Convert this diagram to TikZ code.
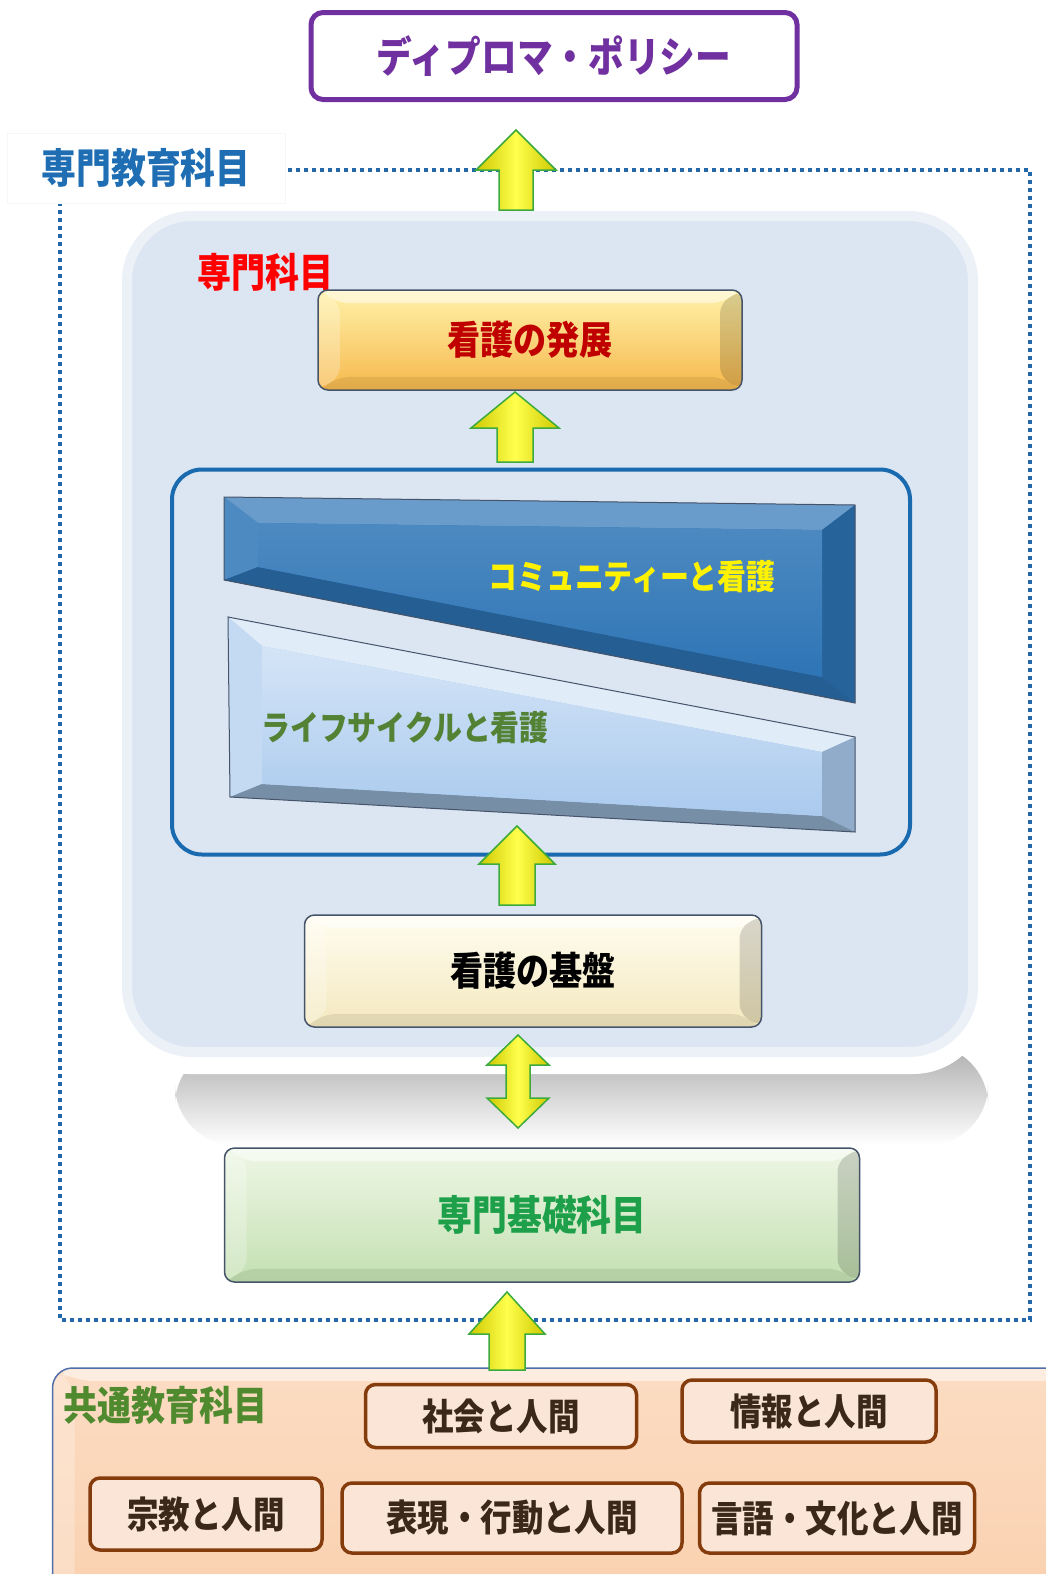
\documentclass[tikz,border=0pt]{standalone}
\usepackage{fontspec}
\newfontfamily\jp[FakeStretch=0.85]{Noto Sans CJK JP}
\usepackage{tikz}
\usetikzlibrary{
  calc,
  positioning,
  shapes}

\definecolor{dpPurple}{RGB}{112,48,160}
\definecolor{eduBlue}{RGB}{31,110,180}
\definecolor{dotBlue}{RGB}{36,104,172}
\definecolor{panelBlue}{RGB}{220,230,242}
\definecolor{edgeGray}{RGB}{70,84,106}
\definecolor{devTop}{RGB}{255,242,170}
\definecolor{devBot}{RGB}{246,184,76}
\definecolor{devRed}{RGB}{192,0,0}
\definecolor{frameBlue}{RGB}{26,106,176}
\definecolor{commBlue}{RGB}{46,117,182}
\definecolor{lifeBlue}{RGB}{170,202,238}
\definecolor{lifeGreen}{RGB}{84,130,53}
\definecolor{baseTop}{RGB}{255,253,240}
\definecolor{baseBot}{RGB}{244,232,190}
\definecolor{fndTop}{RGB}{238,247,230}
\definecolor{fndBot}{RGB}{196,224,178}
\definecolor{fndGreen}{RGB}{30,160,75}
\definecolor{arrGreen}{RGB}{60,170,60}
\definecolor{arrDark}{RGB}{205,200,0}
\definecolor{peach}{RGB}{250,208,174}
\definecolor{peachEdge}{RGB}{80,110,170}
\definecolor{genGreen}{RGB}{79,138,47}
\definecolor{subjBrown}{RGB}{132,60,12}
\definecolor{subjFill}{RGB}{251,229,214}
\definecolor{subjText}{RGB}{60,40,25}

\newcommand{\jf}[1]{\jp\bfseries\fontsize{#1}{#1}\selectfont}

% yellow block arrows, tail -> head
\newcommand{\blockup}[5]{%
  \path[yarrow] let \p1=(#1), \p2=(#2) in
    (\x2-#3pt,\y1) -- (\x2-#3pt,\y2-#5pt) -- (\x2-#4pt,\y2-#5pt) -- (\x2,\y2)
    -- (\x2+#4pt,\y2-#5pt) -- (\x2+#3pt,\y2-#5pt) -- (\x2+#3pt,\y1) -- cycle;}
\newcommand{\blockboth}[5]{%
  \path[yarrow] let \p1=(#1), \p2=(#2) in
    (\x1,\y1) -- (\x1+#4pt,\y1+#5pt) -- (\x1+#3pt,\y1+#5pt) -- (\x1+#3pt,\y2-#5pt)
    -- (\x1+#4pt,\y2-#5pt) -- (\x1,\y2) -- (\x1-#4pt,\y2-#5pt) -- (\x1-#3pt,\y2-#5pt)
    -- (\x1-#3pt,\y1+#5pt) -- (\x1-#4pt,\y1+#5pt) -- cycle;}

\tikzset{
  bevel/.style={path picture={
    \coordinate (bnw) at (path picture bounding box.north west);
    \coordinate (bne) at (path picture bounding box.north east);
    \coordinate (bsw) at (path picture bounding box.south west);
    \coordinate (bse) at (path picture bounding box.south east);
    \coordinate (inw) at ([shift={(#1pt,-0.6*#1pt)}]bnw);
    \coordinate (ine) at ([shift={(-#1pt,-0.6*#1pt)}]bne);
    \coordinate (isw) at ([shift={(#1pt,0.6*#1pt)}]bsw);
    \coordinate (ise) at ([shift={(-#1pt,0.6*#1pt)}]bse);
    \fill[white,opacity=.5] (bnw) -- (bne) -- (ine) -- (inw) -- cycle;
    \fill[white,opacity=.25] (bnw) -- (inw) -- (isw) -- (bsw) -- cycle;
    \fill[black,opacity=.15] (bne) -- (ine) -- (ise) -- (bse) -- cycle;
    \fill[black,opacity=.08] (bsw) -- (isw) -- (ise) -- (bse) -- cycle;}},
  btn/.style={draw=edgeGray, line width=1.5pt, rounded corners=10pt, inner sep=0pt, bevel=22},
  yarrow/.style={draw=arrGreen, line width=1.5pt, left color=arrDark, right color=arrDark, middle color=yellow!70!white},
  subj/.style={draw=subjBrown, line width=3.5pt, fill=subjFill, rounded corners=10pt, inner sep=0pt,
    text=subjText, font=\jf{37}},
  dotframe/.style={draw=dotBlue, line width=4.5pt, dash pattern=on 4pt off 4pt}
}

\begin{document}
\begin{tikzpicture}[x=1pt,y=-1pt]
  \useasboundingbox (0,0) rectangle (1046,1574);
  \clip (0,0) rectangle (1046,1574);
  \fill[white] (0,0) rectangle (1046,1574);

  \node (dp) at (554,56) [draw=dpPurple, line width=5pt, rounded corners=12pt, fill=white,
    minimum width=486, minimum height=87, text=dpPurple, font=\jf{42}] {ディプロマ・ポリシー};

  \draw[dotframe] (60,170) rectangle (1030,1320);
  \node (edu) at (146,168) [fill=white, draw=black!3, minimum width=278, minimum height=70,
    text=eduBlue, font=\jf{41}] {専門教育科目};

  % shadow and panel
  \shade[top color=black!32, bottom color=white, rounded corners=60pt] (175,1045) rectangle (988,1145);
  \node (panel) at (550,640) [fill=white, rounded corners=75pt,
    minimum width=876, minimum height=868] {};
  \node (inner) at (550,634) [fill=panelBlue, draw=panelBlue!55!white, line width=10pt, rounded corners=65pt,
    minimum width=846, minimum height=836] {};
  \node (spec) at (265,272) [text=red, font=\jf{40}] {専門科目};

  \node (dev) at (530,340) [btn, top color=devTop, bottom color=devBot,
    minimum width=424, minimum height=100, text=devRed, font=\jf{39}] {看護の発展};

  \node (frame) at (541,662) [draw=frameBlue, line width=4pt, rounded corners=30pt,
    minimum width=738, minimum height=385] {};

  % community trapezoid
  \fill[commBlue] (224,497) -- (855,505) -- (855,703) -- (224,580) -- cycle;
  \fill[commBlue!72!white] (224,497) -- (855,505) -- (822,530) -- (258,523) -- cycle;
  \fill[commBlue!85!white] (224,497) -- (258,523) -- (258,567) -- (224,580) -- cycle;
  \fill[commBlue!85!black] (855,505) -- (855,703) -- (822,677) -- (822,530) -- cycle;
  \fill[commBlue!80!black] (224,580) -- (258,567) -- (822,677) -- (855,703) -- cycle;
  \shade[top color=commBlue!85!white, bottom color=commBlue] (258,523) -- (822,530) -- (822,677) -- (258,567) -- cycle;
  \draw[edgeGray, line width=1pt] (224,497) -- (855,505) -- (855,703) -- (224,580) -- cycle;
  \node (comm) at (632,577) [text=yellow, font=\jf{34}] {コミュニティーと看護};

  % life cycle trapezoid
  \fill[lifeBlue] (228,617) -- (855,737) -- (855,832) -- (230,797) -- cycle;
  \fill[lifeBlue!35!white] (228,617) -- (855,737) -- (822,752) -- (262,646) -- cycle;
  \fill[lifeBlue!70!white] (228,617) -- (262,646) -- (262,784) -- (230,797) -- cycle;
  \fill[lifeBlue!85!black] (855,737) -- (855,832) -- (822,816) -- (822,752) -- cycle;
  \fill[lifeBlue!70!black] (230,797) -- (262,784) -- (822,816) -- (855,832) -- cycle;
  \shade[top color=lifeBlue!50!white, bottom color=lifeBlue] (262,646) -- (822,752) -- (822,816) -- (262,784) -- cycle;
  \draw[edgeGray, line width=1pt] (228,617) -- (855,737) -- (855,832) -- (230,797) -- cycle;
  \node (life) at (405,728) [text=lifeGreen, font=\jf{34}] {ライフサイクルと看護};

  \node (base) at (533,971) [btn, top color=baseTop, bottom color=baseBot,
    minimum width=457, minimum height=112, text=black, font=\jf{39}] {看護の基盤};

  \node (fnd) at (542,1215) [btn, top color=fndTop, bottom color=fndBot,
    minimum width=635, minimum height=134, text=fndGreen, font=\jf{41}] {専門基礎科目};

  % common education
  \node (gen) at (566,1494) [btn, draw=peachEdge, top color=peach!75!white, bottom color=peach,
    rounded corners=20pt, minimum width=1027, minimum height=252] {};
  \node (genlab) at (165,1405) [text=genGreen, font=\jf{40}] {共通教育科目};
  \node (soc) at (501,1416) [subj, minimum width=271, minimum height=63] {社会と人間};
  \node (info) at (809,1411) [subj, minimum width=254, minimum height=62] {情報と人間};
  \node (rel) at (206,1514) [subj, minimum width=232, minimum height=72] {宗教と人間};
  \node (expr) at (512,1518) [subj, minimum width=340, minimum height=70] {表現・行動と人間};
  \node (lang) at (837,1518) [subj, minimum width=275, minimum height=70] {言語・文化と人間};

  % arrows
  \coordinate (a1t) at (516,210);  \coordinate (a1h) at (516,130);
  \coordinate (a2t) at (515,462);  \coordinate (a2h) at (515,392);
  \coordinate (a3t) at (517,905);  \coordinate (a3h) at (517,826);
  \coordinate (a4b) at (518,1128); \coordinate (a4a) at (518,1035);
  \coordinate (a5t) at (507,1370); \coordinate (a5h) at (507,1292);
  \blockup{a1t}{a1h}{17}{40}{40}
  \blockup{a2t}{a2h}{18}{44}{36}
  \blockup{a3t}{a3h}{18}{38}{38}
  \blockboth{a4b}{a4a}{12}{31}{30}
  \blockup{a5t}{a5h}{18}{38}{42}
\end{tikzpicture}
\end{document}
